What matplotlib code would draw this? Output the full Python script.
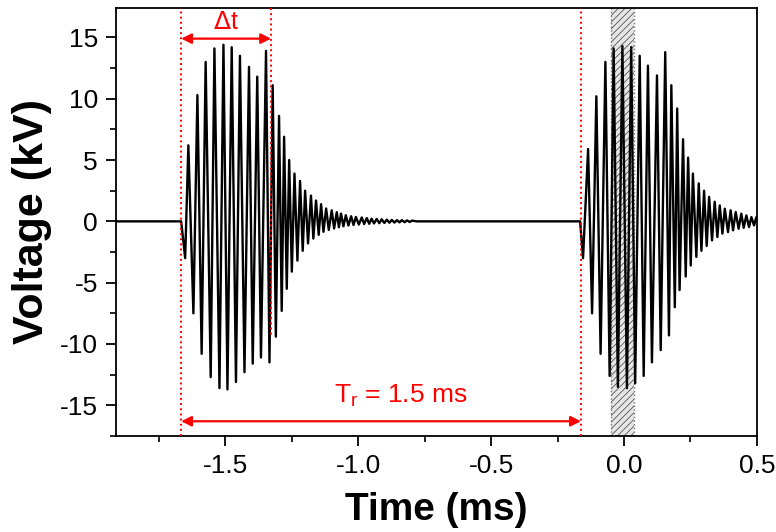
import numpy as np
import matplotlib
matplotlib.use("Agg")
import matplotlib.pyplot as plt
from matplotlib.ticker import MultipleLocator

plt.rcParams['font.family'] = ['Liberation Sans', 'DejaVu Sans']
plt.rcParams['hatch.linewidth'] = 0.6

# ---- data (time in ms, voltage in kV) ----
# Burst 1: positive peaks
b1_peak_t = [-1.638, -1.604, -1.573, -1.540, -1.506, -1.475, -1.444, -1.410, -1.379, -1.346,
             -1.321, -1.297, -1.278, -1.259, -1.239, -1.218, -1.199, -1.177, -1.158, -1.139,
             -1.120, -1.099, -1.080, -1.064, -1.046, -1.026, -1.008, -0.986, -0.967, -0.949,
             -0.930, -0.911, -0.892, -0.873, -0.854, -0.835, -0.816, -0.797]
b1_peak_v = [6.2, 10.3, 13.0, 14.1, 14.4, 14.2, 13.5, 12.6, 11.8, 13.9,
             11.1, 8.6, 6.9, 5.0, 3.9, 3.3, 2.5, 2.1, 1.7, 1.4,
             1.05, 0.9, 0.75, 0.63, 0.5, 0.42, 0.36, 0.32, 0.27, 0.22,
             0.2, 0.17, 0.14, 0.12, 0.1, 0.1, 0.08, 0.06]
# Burst 1: negative troughs
b1_trough_t = [-1.650, -1.619, -1.588, -1.554, -1.521, -1.491, -1.459, -1.427, -1.396, -1.365,
               -1.333, -1.309, -1.287, -1.268, -1.249, -1.228, -1.208, -1.188, -1.168, -1.148,
               -1.130, -1.110, -1.090, -1.072, -1.055, -1.036, -1.017, -0.997, -0.977, -0.958,
               -0.940, -0.920, -0.901, -0.882, -0.863, -0.844, -0.825, -0.806]
b1_trough_v = [-3.0, -7.5, -10.8, -12.7, -13.6, -13.7, -13.1, -12.3, -11.6, -11.1,
               -11.5, -9.4, -7.3, -5.5, -4.1, -3.2, -2.4, -1.8, -1.4, -1.1,
               -0.85, -0.7, -0.58, -0.48, -0.4, -0.34, -0.3, -0.26, -0.22, -0.2,
               -0.17, -0.15, -0.13, -0.11, -0.1, -0.08, -0.07, -0.05]
# Burst 2: positive peaks
b2_peak_t = [-0.135, -0.104, -0.070, -0.039, -0.006, 0.027, 0.059, 0.090, 0.124, 0.155,
             0.178, 0.200, 0.222, 0.241, 0.259, 0.281, 0.301, 0.320, 0.341, 0.360,
             0.379, 0.401, 0.420, 0.441, 0.460, 0.479, 0.497]
b2_peak_v = [5.9, 10.2, 13.0, 14.1, 14.3, 14.2, 13.5, 12.7, 11.9, 13.8,
             11.1, 9.2, 6.7, 5.2, 3.9, 3.1, 2.5, 2.0, 1.6, 1.3,
             1.03, 0.9, 0.76, 0.63, 0.49, 0.35, 0.3]
# Burst 2: negative troughs
b2_trough_t = [-0.154, -0.120, -0.088, -0.054, -0.023, 0.011, 0.042, 0.074, 0.105, 0.138,
               0.169, 0.191, 0.209, 0.232, 0.251, 0.272, 0.291, 0.311, 0.331, 0.351,
               0.370, 0.391, 0.410, 0.431, 0.450, 0.470, 0.489]
b2_trough_v = [-3.0, -7.5, -10.8, -12.6, -13.5, -13.6, -13.2, -12.6, -11.5, -10.5,
               -9.3, -7.0, -5.6, -4.5, -3.6, -2.9, -2.4, -2.0, -1.55, -1.28,
               -1.0, -0.87, -0.73, -0.6, -0.52, -0.46, -0.33]
# Flat baseline segments
baseline_t = [-1.91, -1.665, -0.78, -0.165]
baseline_v = [0.0, 0.0, 0.0, 0.0]

# markers / annotations
burst1_start = -1.665
dt_end = -1.327
burst2_start = -0.162
hatch_span = (-0.049, 0.038)

# ---- assemble waveform ----
t_all = np.concatenate([baseline_t, b1_peak_t, b1_trough_t, b2_peak_t, b2_trough_t])
v_all = np.concatenate([baseline_v, b1_peak_v, b1_trough_v, b2_peak_v, b2_trough_v])
order = np.argsort(t_all)
t_all = t_all[order]
v_all = v_all[order]

fig = plt.figure(figsize=(7.76, 5.32), dpi=100)
ax = fig.add_axes([0.1495, 0.1805, 0.826, 0.8045])

ax.set_xlim(-1.91, 0.5)
ax.set_ylim(-17.5, 17.4)

# hatched region
ax.axvspan(hatch_span[0], hatch_span[1], facecolor='#e6e6e6', edgecolor='#555555',
           hatch='/////', linewidth=0.0, zorder=1)
for xv in hatch_span:
    ax.axvline(xv, color='#777777', ls=':', lw=1.0, zorder=1.5)

ax.plot(t_all, v_all, color='black', lw=1.7, zorder=2)

# red dotted lines
ax.axvline(burst1_start, color='red', ls=':', lw=1.4, zorder=3)
ax.axvline(burst2_start, color='red', ls=':', lw=1.4, zorder=3)
ax.plot([dt_end, dt_end], [17.4, -9.3], color='red', ls=':', lw=1.4, zorder=3)

# arrows
ap = dict(arrowstyle='<|-|>', color='red', lw=1.6, mutation_scale=15, shrinkA=0, shrinkB=0)
ax.annotate('', xy=(burst1_start, 14.9), xytext=(dt_end, 14.9), arrowprops=ap, zorder=4)
ax.text((burst1_start + dt_end) / 2, 15.3, r'$\Delta$t', color='red', fontsize=18,
        ha='center', va='bottom')
ax.annotate('', xy=(burst1_start, -16.3), xytext=(burst2_start, -16.3), arrowprops=ap, zorder=4)
ax.text(-0.84, -15.3, r'T$_\mathregular{r}$ = 1.5 ms', color='red', fontsize=19,
        ha='center', va='bottom')

# ticks
ax.xaxis.set_minor_locator(MultipleLocator(0.25))
ax.yaxis.set_minor_locator(MultipleLocator(2.5))
ax.set_xticks([-1.5, -1.0, -0.5, 0.0, 0.5])
ax.set_xticklabels(['-1.5', '-1.0', '-0.5', '0.0', '0.5'])
ax.set_yticks([-15, -10, -5, 0, 5, 10, 15])
ax.set_yticklabels(['-15', '-10', '-5', '0', '5', '10', '15'])
ax.tick_params(which='major', direction='out', length=7, width=1.3, labelsize=19,
               top=False, right=False, pad=6)
ax.tick_params(which='minor', direction='out', length=4, width=1.2, top=False, right=False)
for s in ax.spines.values():
    s.set_linewidth(1.3)

ax.set_xlabel('Time (ms)', fontsize=28, fontweight='bold', labelpad=10)
ax.set_ylabel('Voltage (kV)', fontsize=31, fontweight='bold', labelpad=6)

fig.savefig('out.png', dpi=100)
